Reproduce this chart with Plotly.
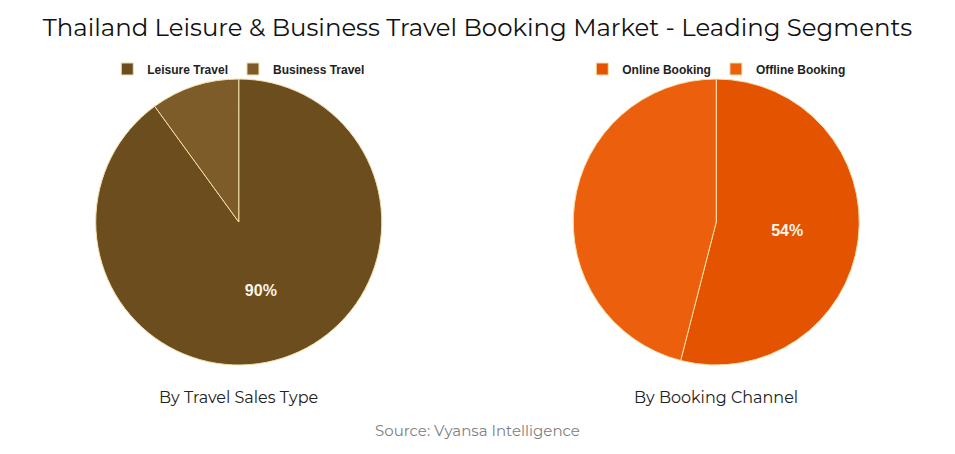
import plotly.graph_objects as go

title = "Thailand Leisure & Business Travel Booking Market - Leading Segments"
source = "Source: Vyansa Intelligence"

sales_labels = ["Leisure Travel", "Business Travel"]
sales_values = [90, 10]
sales_colors = ["#6B4D1E", "#7E5C29"]
sales_title = "By Travel Sales Type"

channel_labels = ["Online Booking", "Offline Booking"]
channel_values = [54, 46]
channel_colors = ["#E35300", "#EC5F0D"]
channel_title = "By Booking Channel"

def pct_text(vals):
    # only the leading segment is labelled
    tot = sum(vals)
    top = max(vals)
    return [f"{round(v / tot * 100)}%" if v == top else "" for v in vals]

label_font = dict(family="Liberation Sans, Arial", size=16, color="#FBF3E4", weight="bold")

fig = go.Figure()
fig.add_trace(go.Pie(
    labels=sales_labels, values=sales_values, text=pct_text(sales_values),
    textinfo="text", textposition="inside", insidetextorientation="horizontal",
    marker=dict(colors=sales_colors, line=dict(color="#F3DFA8", width=1)),
    sort=False, direction="clockwise", rotation=0,
    domain=dict(x=[0, 0.5], y=[0, 1]), legend="legend",
    textfont=label_font, hoverinfo="label+percent",
))
fig.add_trace(go.Pie(
    labels=channel_labels, values=channel_values, text=pct_text(channel_values),
    textinfo="text", textposition="inside", insidetextorientation="horizontal",
    marker=dict(colors=channel_colors, line=dict(color="#F3DFA8", width=1)),
    sort=False, direction="clockwise", rotation=0,
    domain=dict(x=[0.5, 1], y=[0, 1]), legend="legend2",
    textfont=label_font, hoverinfo="label+percent",
))

legend_common = dict(
    orientation="h", yanchor="middle", y=1.035, xanchor="center",
    font=dict(family="Liberation Sans, Arial", size=12, color="#222222", weight="bold"),
    bgcolor="rgba(0,0,0,0)", itemwidth=30, tracegroupgap=0,
)
plot_top, plot_h = 79, 454 - 79 - 89
def py(pix):
    return 1 - (pix - plot_top) / plot_h

fig.update_layout(
    width=955, height=454,
    paper_bgcolor="white", plot_bgcolor="white",
    margin=dict(l=0, r=0, t=79, b=89),
    font=dict(family="Montserrat, Open Sans, sans-serif"),
    title=dict(text=title, x=0.5, xanchor="center", y=1 - 27 / 454, yanchor="middle",
               font=dict(family="Montserrat, Open Sans, sans-serif", size=24.4, color="#111111")),
    legend=dict(x=0.25, **legend_common),
    legend2=dict(x=0.75, **legend_common),
    annotations=[
        dict(text=sales_title, x=0.25, y=py(397), xref="paper", yref="paper", showarrow=False,
             xanchor="center", yanchor="middle", font=dict(size=16, color="#222222")),
        dict(text=channel_title, x=0.75, y=py(397), xref="paper", yref="paper", showarrow=False,
             xanchor="center", yanchor="middle", font=dict(size=16, color="#222222")),
        dict(text=source, x=0.5, y=py(430), xref="paper", yref="paper", showarrow=False,
             xanchor="center", yanchor="middle", font=dict(size=15, color="#808080")),
    ],
)

fig.write_html("out.html", config={"displayModeBar": False},
               post_script="document.body.style.margin='0';")
